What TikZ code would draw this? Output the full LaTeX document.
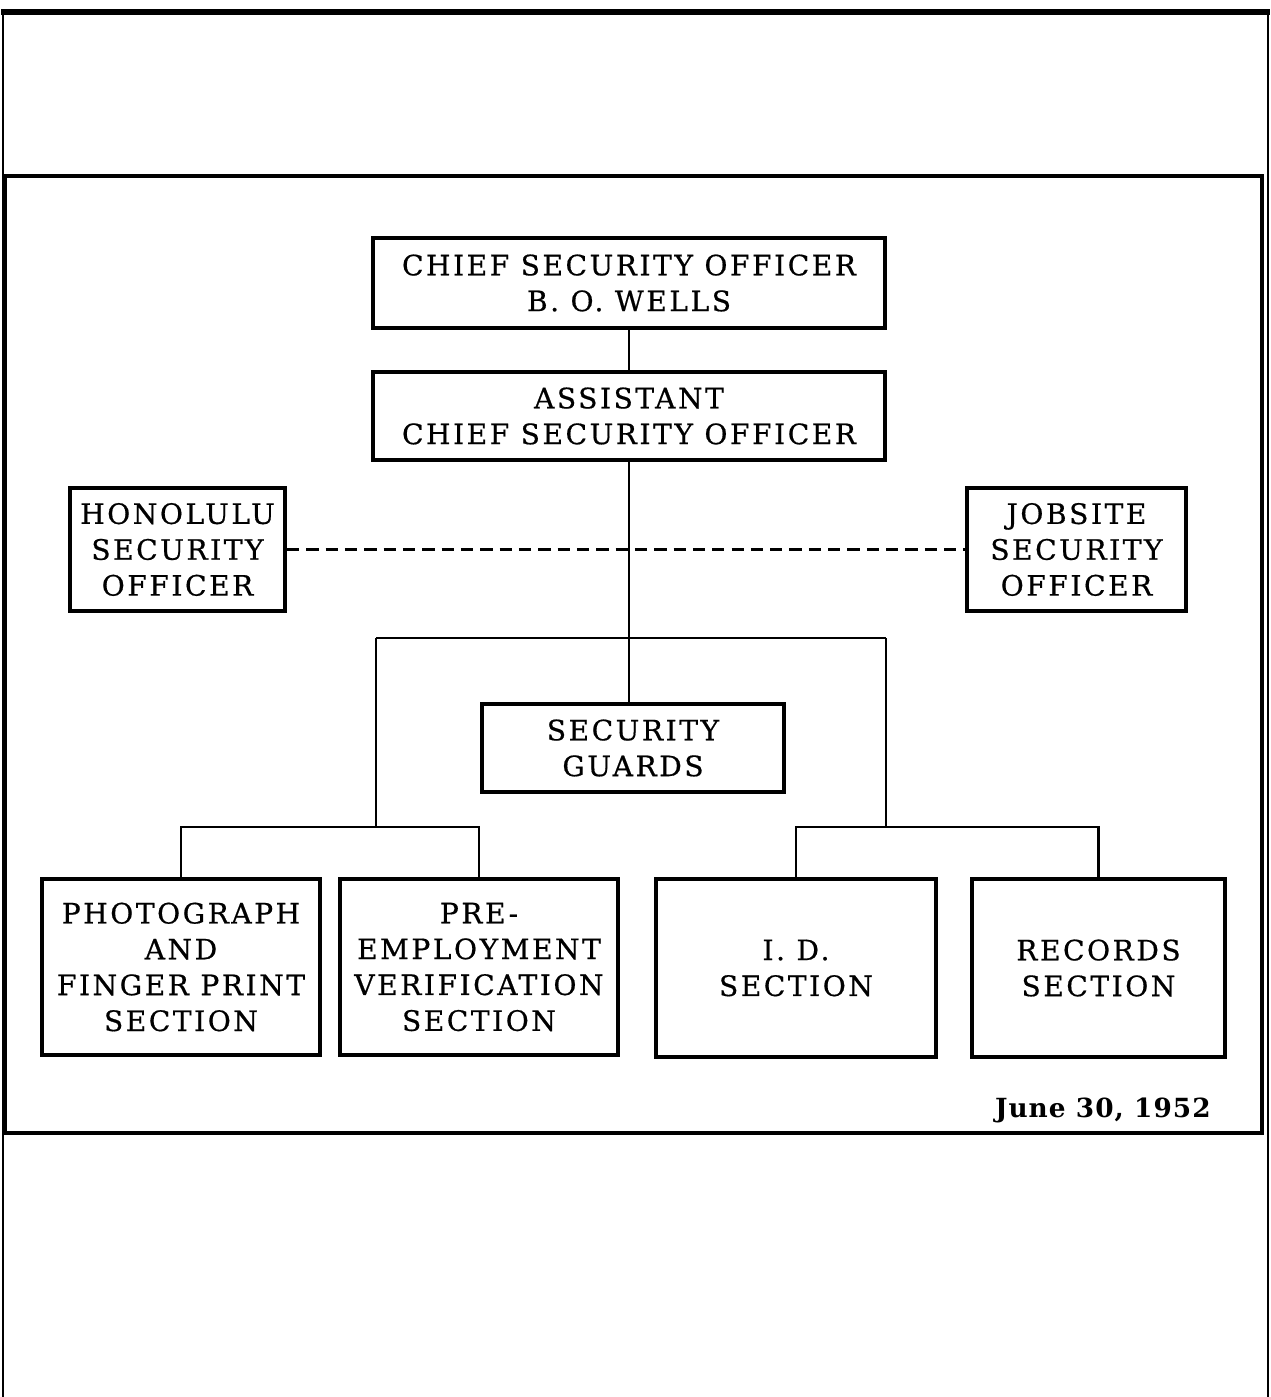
\documentclass[tikz,border=0pt]{standalone}
\usepackage{fontspec}
\newfontfamily\boxfont{DejaVu Serif}[LetterSpace=9,FakeBold=0.6]
\newfontfamily\datefont{DejaVu Serif}[LetterSpace=4]
\begin{document}
\begin{tikzpicture}[x=0.02cm,y=-0.02cm,
  unit/.style={draw,line width=2.3pt,inner sep=0pt,align=center,
    font=\boxfont\fontsize{16}{20.4}\selectfont},
  link/.style={line width=1.6pt},
  dotlink/.style={line width=1.8pt,dash pattern=on 7pt off 4pt}]
\useasboundingbox (0,0) rectangle (1271,1397);

% page frame and chart panel
\draw[line width=1.1pt] (3,1397) -- (3,12);
\draw[line width=1.1pt] (1268,12) -- (1268,1397);
\draw[line width=3pt] (1,12) -- (1270,12);
\draw[line width=2.8pt] (5,176) rectangle (1262,1133);

% units
\node[unit,minimum width=10.24cm,minimum height=1.8cm] (chief) at (629,283)
  {CHIEF SECURITY OFFICER\\B. O. WELLS};
\node[unit,minimum width=10.24cm,minimum height=1.76cm] (asst) at (629,416)
  {ASSISTANT\\CHIEF SECURITY OFFICER};
\node[unit,minimum width=4.3cm,minimum height=2.46cm] (hono) at (177.5,549.5)
  {HONOLULU\\SECURITY\\OFFICER};
\node[unit,minimum width=4.38cm,minimum height=2.46cm] (job) at (1076.5,549.5)
  {JOBSITE\\SECURITY\\OFFICER};
\node[unit,minimum width=6.04cm,minimum height=1.76cm] (guards) at (633,748)
  {SECURITY\\GUARDS};
\node[unit,minimum width=5.56cm,minimum height=3.52cm] (photo) at (181,967)
  {PHOTOGRAPH\\AND\\FINGER PRINT\\SECTION};
\node[unit,minimum width=5.58cm,minimum height=3.52cm] (pre) at (479,967)
  {PRE-\\EMPLOYMENT\\VERIFICATION\\SECTION};
\node[unit,minimum width=5.6cm,minimum height=3.56cm] (id) at (796,968)
  {I. D.\\SECTION};
\node[unit,minimum width=5.06cm,minimum height=3.56cm] (rec) at (1098.5,968)
  {RECORDS\\SECTION};

% junction points of the branch lines
\coordinate (bl) at (376,638);
\coordinate (br) at (886,638);
\coordinate (lj) at (376,827);
\coordinate (rj) at (886,827);

% connectors
\draw[link] (chief) -- (asst);
\draw[link] (asst.south) -- (asst.south |- guards.north);
\draw[link] (bl) -- (br);
\draw[link] (bl) -- (lj);
\draw[link] (br) -- (rj);
\draw[link] (lj) -| (photo.north);
\draw[link] (lj) -| (pre.north);
\draw[link] (rj) -| (id.north);
\draw[link] (rj) -| (rec.north);
\draw[dotlink] (hono.east) -- (job.west);

% date
\node[anchor=base east,inner sep=0pt,font=\datefont\bfseries\fontsize{15}{18}\selectfont]
  (date) at (1211,1117) {June 30, 1952};
\end{tikzpicture}
\end{document}
